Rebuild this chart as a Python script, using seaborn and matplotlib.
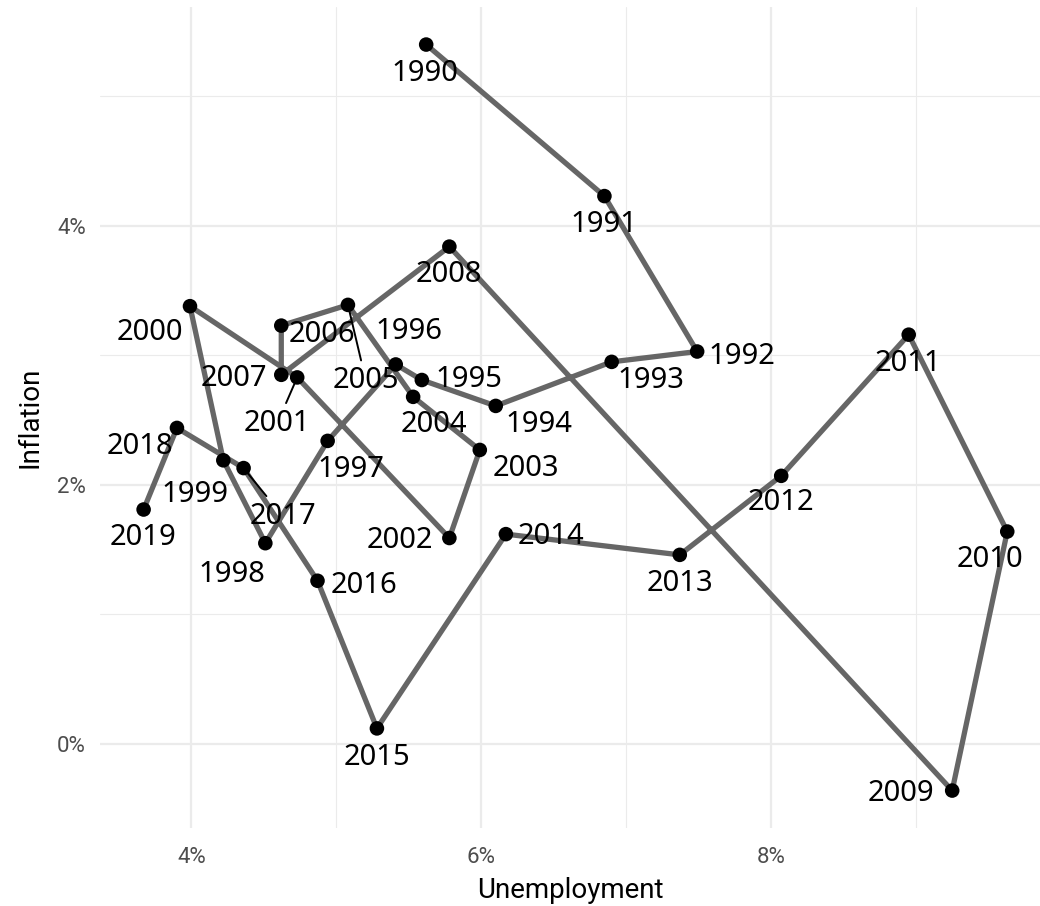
import numpy as np
import pandas as pd
import matplotlib
matplotlib.use('Agg')
import matplotlib.pyplot as plt
from matplotlib.ticker import FuncFormatter, MultipleLocator
import seaborn as sns

# ── Data ──────────────────────────────────────────────────────────────────────

YEARS = list(range(1990, 2020))
UNEMPLOYMENT = [5.62, 6.85, 7.49, 6.90, 6.10, 5.59, 5.41, 4.94, 4.51, 4.22,
                3.99, 4.73, 5.78, 5.99, 5.53, 5.08, 4.62, 4.62, 5.78, 9.25,
                9.63, 8.95, 8.07, 7.37, 6.17, 5.28, 4.87, 4.36, 3.90, 3.67]
INFLATION = [5.40, 4.23, 3.03, 2.95, 2.61, 2.81, 2.93, 2.34, 1.55, 2.19,
             3.38, 2.83, 1.59, 2.27, 2.68, 3.39, 3.23, 2.85, 3.84, -0.36,
             1.64, 3.16, 2.07, 1.46, 1.62, 0.12, 1.26, 2.13, 2.44, 1.81]

# label placement (pixel offset from point); a few get a leader line
LABEL_OFFSET = {
    1990: (-1, -29), 1991: (0, -28), 1992: (45, -5), 1993: (39, -19),
    1994: (43, -19), 1995: (47, 1), 1996: (13, 33), 1997: (23, -29),
    1998: (-33, -31), 1999: (-28, -34), 2000: (-40, -26), 2001: (-20, -46),
    2002: (-49, -2), 2003: (46, -19), 2004: (21, -28), 2005: (18, -76),
    2006: (41, -9), 2007: (-47, -4), 2008: (0, -28), 2009: (-51, -3),
    2010: (-17, -28), 2011: (-1, -29), 2012: (0, -27), 2013: (0, -29),
    2014: (45, -2), 2015: (0, -29), 2016: (46, -5), 2017: (39, -48),
    2018: (-37, -19), 2019: (-1, -28),
}
SEGMENT_YEARS = [2001, 2005, 2017]

df = pd.DataFrame({'year': YEARS, 'unemployment': UNEMPLOYMENT,
                   'inflation': INFLATION})

# ── Plot ──────────────────────────────────────────────────────────────────────

sns.set_theme(style='whitegrid')
plt.rcParams['font.family'] = ['Roboto', 'DejaVu Sans']

fig = plt.figure(figsize=(10.4, 9.06), dpi=100)
ax = fig.add_axes([100 / 1040, 78 / 906, 940 / 1040, 821 / 906])

sns.lineplot(data=df, x='unemployment', y='inflation', sort=False,
             estimator=None, color='#666666', linewidth=3.8, ax=ax, zorder=2)
sns.scatterplot(data=df, x='unemployment', y='inflation', color='black',
                s=110, edgecolor='none', ax=ax, zorder=3)

for yr, ux, iy in zip(YEARS, UNEMPLOYMENT, INFLATION):
    dx, dy = LABEL_OFFSET[yr]
    props = None
    if yr in SEGMENT_YEARS:
        props = dict(arrowstyle='-', color='black', lw=1.4,
                     shrinkA=2, shrinkB=5)
    ax.annotate(str(yr), (ux, iy), xytext=(dx, dy),
                textcoords='offset pixels', ha='center', va='center',
                fontsize=21, color='black', family=['Noto Sans', 'DejaVu Sans'],
                arrowprops=props, zorder=4)

ax.set_xlim(3.369, 9.856)
ax.set_ylim(-0.649, 5.69)
ax.xaxis.set_major_locator(MultipleLocator(2))
ax.xaxis.set_minor_locator(MultipleLocator(1))
ax.yaxis.set_major_locator(MultipleLocator(2))
ax.yaxis.set_minor_locator(MultipleLocator(1))
pct = FuncFormatter(lambda v, _: f'{v:.0f}%')
ax.xaxis.set_major_formatter(pct)
ax.yaxis.set_major_formatter(pct)

ax.grid(which='major', color='#ebebeb', linewidth=1.6)
ax.grid(which='minor', color='#ebebeb', linewidth=0.8)
ax.set_axisbelow(True)
for s in ax.spines.values():
    s.set_visible(False)
ax.tick_params(which='both', length=0, labelsize=16, labelcolor='#4d4d4d')
ax.tick_params(axis='x', pad=14)
ax.tick_params(axis='y', pad=10)

ax.set_xlabel('Unemployment', fontsize=20, color='black', labelpad=6)
ax.set_ylabel('Inflation', fontsize=20, color='black', labelpad=10)

plt.savefig('out.png', dpi=100)
plt.close()
